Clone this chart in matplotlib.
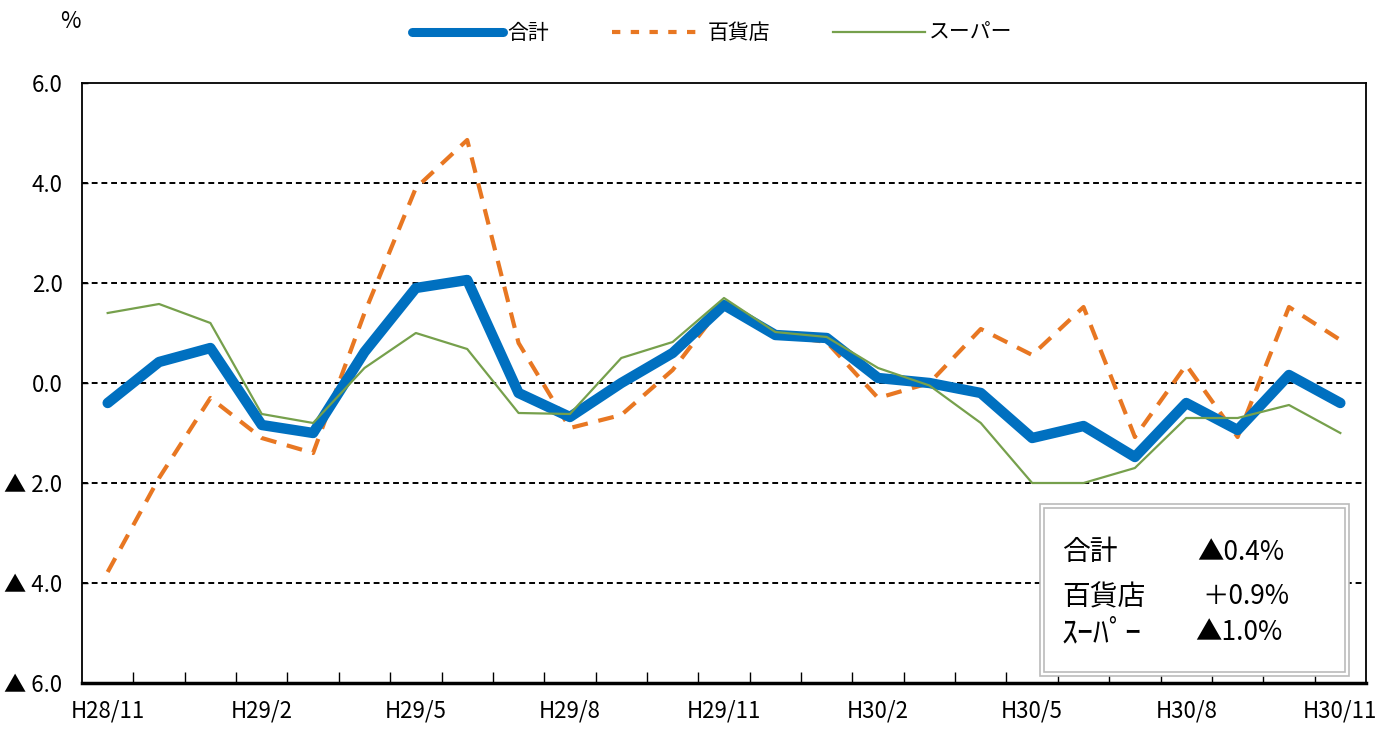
import matplotlib
matplotlib.use("Agg")
import matplotlib.pyplot as plt
from matplotlib.patches import Rectangle
from matplotlib.lines import Line2D

categories = ["H28/11", "H28/12", "H29/1", "H29/2", "H29/3", "H29/4", "H29/5", "H29/6",
              "H29/7", "H29/8", "H29/9", "H29/10", "H29/11", "H29/12", "H30/1", "H30/2",
              "H30/3", "H30/4", "H30/5", "H30/6", "H30/7", "H30/8", "H30/9", "H30/10", "H30/11"]
total = [-0.4, 0.42, 0.7, -0.84, -1.0, 0.62, 1.9, 2.06, -0.2, -0.68, 0.0, 0.6, 1.56,
         0.96, 0.9, 0.1, 0.0, -0.2, -1.1, -0.86, -1.48, -0.4, -0.94, 0.16, -0.4]
dept = [-3.78, -1.9, -0.3, -1.1, -1.4, 1.4, 3.9, 4.86, 0.8, -0.9, -0.64, 0.26, 1.6,
        0.96, 0.82, -0.3, 0.0, 1.08, 0.56, 1.52, -1.08, 0.36, -1.08, 1.52, 0.86]
super_ = [1.4, 1.58, 1.2, -0.62, -0.8, 0.3, 1.0, 0.68, -0.6, -0.62, 0.5, 0.82, 1.7,
          1.02, 0.92, 0.3, -0.05, -0.8, -2.0, -2.0, -1.7, -0.7, -0.7, -0.44, -1.0]
series_names = ["合計", "百貨店", "スーパー"]
yticks = [-6, -4, -2, 0, 2, 4, 6]
ytick_labels = ["▲ 6.0", "▲ 4.0", "▲ 2.0", "0.0", "2.0", "4.0", "6.0"]
box_names = ["合計", "百貨店", "ｽｰﾊﾟｰ"]
box_values = ["▲0.4%", "＋0.9%", "▲1.0%"]

LAT = ["Liberation Sans Narrow", "Noto Sans CJK JP", "DejaVu Sans"]
JP = ["Noto Sans CJK JP", "DejaVu Sans"]
plt.rcParams['font.family'] = LAT

W, H = 1394, 731
fig = plt.figure(figsize=(W / 100, H / 100), dpi=100)
ax = fig.add_axes([82 / W, 1 - 683 / H, (1366 - 82) / W, 600 / H])

x = list(range(len(categories)))
ax.plot(x, total, color="#0070C0", lw=7.5, solid_capstyle="round", solid_joinstyle="round", zorder=4, label=series_names[0])
ax.plot(x, dept, color="#E87722", lw=3.0, dashes=(3.8, 2.6), zorder=3, label=series_names[1])
ax.plot(x, super_, color="#76A04C", lw=1.6, zorder=5, label=series_names[2])

ax.set_xlim(-0.5, len(categories) - 0.5)
ax.set_ylim(-6, 6)
ax.set_yticks(yticks)
ax.set_yticklabels(ytick_labels, fontsize=16)
for yv in [-4, -2, 0, 2, 4]:
    ax.axhline(yv, color="black", lw=1.4, dashes=(3, 2), zorder=1)
ax.tick_params(axis="y", direction="in", length=4, width=1, pad=14)

# x ticks at boundaries (minor), labels every 3
ax.set_xticks([i + 0.5 for i in range(len(categories) - 1)], minor=True)
ax.set_xticks(x[::3])
ax.set_xticklabels(categories[::3], fontsize=16)
ax.tick_params(axis="x", which="major", length=0, pad=12)
ax.tick_params(axis="x", which="minor", direction="in", length=8, width=1)
for s in ax.spines.values():
    s.set_color("black")
    s.set_linewidth(1.3)
ax.spines["bottom"].set_linewidth(2.5)

# % label
fig.text(70 / W, 1 - 22 / H, "%", fontsize=16, ha="center", va="center")

# legend
fig.legend(handles=[Line2D([], [], color="#0070C0", lw=6.5, solid_capstyle="round"),
                    Line2D([], [], color="#E87722", lw=3.0, dashes=(2, 2.5)),
                    Line2D([], [], color="#76A04C", lw=1.6)],
           labels=series_names, loc="center", bbox_to_anchor=(712 / W, 1 - 33 / H),
           ncol=3, frameon=False, prop={"family": JP, "size": 15},
           handlelength=4.4, columnspacing=3.0, handletextpad=0.2)

# text box
tb = fig.transFigure
def px(xp, yp):
    return xp / W, 1 - yp / H
fig.patches.append(Rectangle(px(1040, 676), 309 / W, 172 / H, transform=tb,
                             facecolor="white", edgecolor="#BBBBBB", lw=1.2, zorder=10))
fig.patches.append(Rectangle(px(1044, 672), 301 / W, 164 / H, transform=tb,
                             facecolor="white", edgecolor="#BBBBBB", lw=1.2, zorder=10))
rows_y = [552, 597, 633]
sizes = [20, 20, 23]
val_x = [1197, 1202, 1195]
for name, val, yy, fs, vx in zip(box_names, box_values, rows_y, sizes, val_x):
    fig.text(1062 / W, 1 - yy / H, name, fontsize=fs, family=JP, ha="left", va="center", zorder=11)
    fig.text(vx / W, 1 - yy / H, val, fontsize=19, ha="left", va="center", zorder=11)

fig.savefig("out.png", dpi=100)
